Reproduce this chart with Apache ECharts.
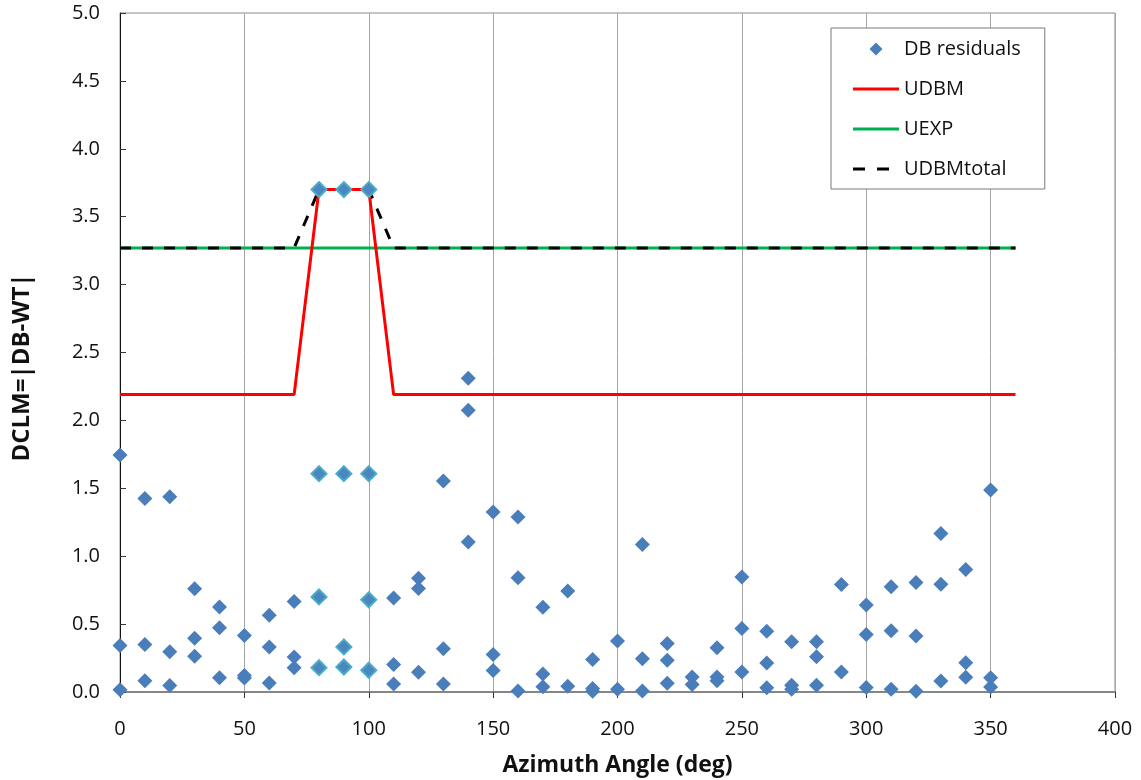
<!DOCTYPE html>
<html>
<head>
<meta charset="utf-8">
<script src="https://cdn.jsdelivr.net/npm/echarts@6/dist/echarts.min.js"></script>
<style>
html,body{margin:0;padding:0;background:#fff;}
#chart{width:1141px;height:780px;}
</style>
</head>
<body>
<div id="chart"></div>
<script>
// DB residuals [azimuth angle (deg), |DB-WT|]
const dbResiduals = [
  [0,1.745],[0,0.342],[0,0.016],
  [10,1.424],[10,0.350],[10,0.082],
  [20,1.437],[20,0.297],[20,0.047],
  [30,0.760],[30,0.395],[30,0.263],
  [40,0.626],[40,0.474],[40,0.105],
  [50,0.416],[50,0.121],[50,0.103],
  [60,0.566],[60,0.332],[60,0.066],
  [70,0.666],[70,0.258],[70,0.179],
  [110,0.692],[110,0.203],[110,0.058],
  [120,0.837],[120,0.763],[120,0.145],
  [130,1.553],[130,0.318],[130,0.058],
  [140,2.310],[140,2.074],[140,1.105],
  [150,1.326],[150,0.277],[150,0.159],
  [160,1.289],[160,0.841],[160,0.007],
  [170,0.625],[170,0.132],[170,0.039],
  [180,0.743],[180,0.042],
  [190,0.240],[190,0.025],[190,0.006],
  [200,0.375],[200,0.020],
  [210,1.086],[210,0.245],[210,0.007],
  [220,0.358],[220,0.233],[220,0.064],
  [230,0.110],[230,0.056],
  [240,0.326],[240,0.110],[240,0.083],
  [250,0.846],[250,0.468],[250,0.147],
  [260,0.447],[260,0.214],[260,0.031],
  [270,0.370],[270,0.049],[270,0.020],
  [280,0.370],[280,0.260],[280,0.049],
  [290,0.792],[290,0.147],
  [300,0.640],[300,0.424],[300,0.034],
  [310,0.775],[310,0.451],[310,0.020],
  [320,0.806],[320,0.412],[320,0.005],
  [330,1.167],[330,0.794],[330,0.081],
  [340,0.902],[340,0.216],[340,0.108],
  [350,1.488],[350,0.105],[350,0.037]
];
// residuals in the 80-100 deg sector (drawn with a lighter outline)
const sectorResiduals = [
  [80,3.700],[80,1.608],[80,0.700],[80,0.179],
  [90,3.700],[90,1.608],[90,0.332],[90,0.184],
  [100,3.700],[100,1.608],[100,0.679],[100,0.160]
];
const lineAngles = [0,70,80,100,110,360];
const udbm       = [2.19,2.19,3.70,3.70,2.19,2.19];
const udbmTotal  = [3.27,3.27,3.70,3.70,3.27,3.27];
const uexpAngles = [0,360];
const uexp       = [3.27,3.27];

const zip = (xs, ys) => xs.map((x, i) => [x, ys[i]]);
const FONT = '"Open Sans", sans-serif';
// legend icons drawn inside a fixed 46x14 box (corner specks fix the box size)
const BOX = 'M0,0L0.01,0L0.01,0.01ZM46,14L45.99,14L45.99,13.99Z';
const DIAMOND_ICON = 'path://' + BOX + 'M23,0.5L29.5,7L23,13.5L16.5,7Z';
const LINE_ICON = 'path://' + BOX + 'M0,5.5L46,5.5L46,8.5L0,8.5Z';
const DASH_ICON = 'path://' + BOX + 'M0,5.5L12,5.5L12,8.5L0,8.5ZM24,5.5L36,5.5L36,8.5L24,8.5Z';

const chart = echarts.init(document.getElementById('chart'));
chart.setOption({
  animation: false,
  backgroundColor: '#fff',
  textStyle: { fontFamily: FONT },
  grid: {
    left: 120, right: 26, top: 13, bottom: 88,
    outerBoundsMode: 'none', containLabel: false,
    show: true, borderColor: '#8c8c8c', borderWidth: 1
  },
  legend: {
    orient: 'vertical',
    left: 831, top: 28,
    padding: [10, 24, 9, 22],
    itemWidth: 46, itemHeight: 14, itemGap: 18,
    backgroundColor: '#fff',
    borderColor: '#7a7a7a', borderWidth: 1,
    textStyle: { fontFamily: FONT, fontSize: 20, color: '#111', lineHeight: 22 },
    data: [
      { name: 'DB residuals', icon: DIAMOND_ICON },
      { name: 'UDBM', icon: LINE_ICON },
      { name: 'UEXP', icon: LINE_ICON },
      { name: 'UDBMtotal', icon: DASH_ICON }
    ]
  },
  xAxis: {
    type: 'value', min: 0, max: 400, interval: 50,
    name: 'Azimuth Angle (deg)', nameLocation: 'middle', nameGap: 62,
    nameTextStyle: { fontFamily: FONT, fontSize: 23, fontWeight: 'bold', color: '#111' },
    axisLine: { show: true, lineStyle: { color: '#868686', width: 2 } },
    axisTick: { show: true, inside: false, length: 6, lineStyle: { color: '#333' } },
    axisLabel: { fontFamily: FONT, fontSize: 20, color: '#111', margin: 27 },
    splitLine: { show: true, lineStyle: { color: '#a6a6a6', width: 1 } }
  },
  yAxis: {
    type: 'value', min: 0, max: 5, interval: 0.5,
    name: 'DCLM=|DB-WT|', nameLocation: 'middle', nameGap: 86, nameRotate: 90,
    nameTextStyle: { fontFamily: FONT, fontSize: 24, fontWeight: 'bold', color: '#111',
      padding: [0, 30, 0, 0] },
    axisLine: { show: true, lineStyle: { color: '#111', width: 1 } },
    axisTick: { show: true, inside: true, length: 6, lineStyle: { color: '#333' } },
    axisLabel: { fontFamily: FONT, fontSize: 20, color: '#111', margin: 20,
      formatter: v => v.toFixed(1) },
    splitLine: { show: false }
  },
  series: [
    {
      name: 'UEXP', type: 'line', data: zip(uexpAngles, uexp),
      symbol: 'none', z: 2,
      lineStyle: { color: '#00b050', width: 3 }, itemStyle: { color: '#00b050' }
    },
    {
      name: 'UDBMtotal', type: 'line', data: zip(lineAngles, udbmTotal),
      symbol: 'none', z: 3,
      lineStyle: { color: '#000', width: 3, type: [11, 11] }, itemStyle: { color: '#000' }
    },
    {
      name: 'UDBM', type: 'line', data: zip(lineAngles, udbm),
      symbol: 'none', z: 4,
      lineStyle: { color: '#ff0000', width: 3 }, itemStyle: { color: '#ff0000' }
    },
    {
      name: 'DB residuals', type: 'scatter', data: dbResiduals,
      symbol: 'diamond', symbolSize: 15, z: 5,
      itemStyle: { color: '#4a7ebb', opacity: 1 }
    },
    {
      name: 'sector residuals', type: 'scatter', data: sectorResiduals,
      symbol: 'diamond', symbolSize: 15, z: 6,
      itemStyle: { color: '#4a86c0', borderColor: '#4bacc6', borderWidth: 2, opacity: 1 }
    }
  ]
});
</script>
</body>
</html>
